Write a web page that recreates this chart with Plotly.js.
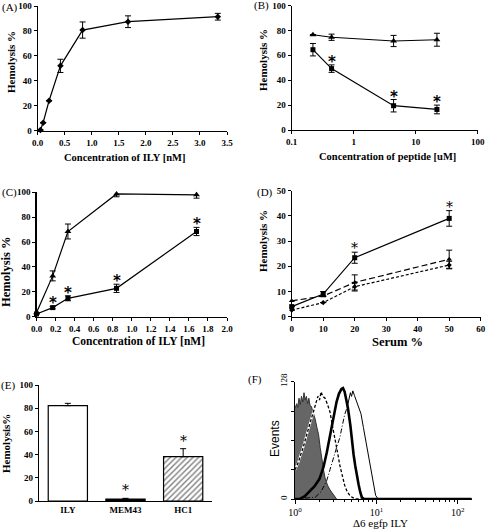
<!DOCTYPE html>
<html>
<head>
<meta charset="utf-8">
<script src="https://cdn.plot.ly/plotly-3.0.1.min.js"></script>
<style>html,body{margin:0;padding:0;background:#fff;}#chart{width:487px;height:529px;}</style>
</head>
<body>
<div id="chart"></div>
<script>
// ---------- Panel A : hemolysis vs ILY concentration ----------
const aConc = [0.05, 0.1, 0.21, 0.42, 0.83, 1.67, 3.33];
const aHemo = [0.5, 6.4, 24, 52, 80.7, 87.4, 91.4];
const aErr  = [0, 0, 0, 5.3, 6.5, 4.7, 2.7];

// ---------- Panel B : hemolysis vs peptide concentration ----------
const bConc = [0.22, 0.44, 4.4, 22];
const bTriangle = [76.5, 74.5, 71.5, 72.5];
const bTriangleErr = [0, 2.5, 4.5, 5.2];
const bSquare = [64.5, 49.3, 19.5, 16.5];
const bSquareErr = [5, 3, 5, 3.5];
const bStars = [false, true, true, true];

// ---------- Panel C : hemolysis vs ILY concentration ----------
const cConc = [0, 0.17, 0.33, 0.84, 1.68];
const cTriangle = [3.2, 32.8, 68.5, 98.7, 98];
const cTriangleErr = [0, 4, 6, 2.3, 2.7];
const cSquare = [2.2, 7.3, 14.8, 22.8, 68.5];
const cSquareErr = [0, 1, 2, 3.3, 3.3];
const cStars = [false, true, true, true, true];

// ---------- Panel D : hemolysis vs serum % ----------
const dSerum = [0, 10, 20, 50];
const dSolid = [4, 9, 23.4, 39];
const dSolidErr = [0, 1, 2.2, 3.1];
const dLongDash = [6.3, 8.2, 13.6, 22.8];
const dLongDashErr = [0, 0, 3, 3.6];
const dShortDash = [2.6, 5.6, 11.9, 20.5];
const dShortDashErr = [0, 0, 1.7, 1.5];
const dStars = [false, false, true, true];

// ---------- Panel E : bars ----------
const eCategories = ['ILY', 'MEM43', 'HC1'];
const eHemo = [82.2, 1.7, 38.2];
const eErr = [2, 0.6, 6.9];
const eStars = [false, true, true];

// ---------- Panel F : flow cytometry histograms ----------
const fGrayX = [1.00,1.05,1.08,1.12,1.16,1.20,1.25,1.29,1.33,1.38,1.43,1.48,1.53,1.59,1.66,1.76,1.86,1.95,2.04,2.14,2.24,2.34,2.51,2.69,2.95,3.24];
const fGrayY = [99,104,100,110,103,112,106,116,108,112,104,110,102,101,95,88,78,70,56,41,32,23,15,10,5,0];
const fDotX = [1.00,1.10,1.17,1.26,1.35,1.45,1.55,1.66,1.74,1.82,1.91,2.00,2.09,2.19,2.34,2.51,2.69,2.88,3.09,3.31,3.55,3.80,4.07,4.37,4.79,5.50,148];
const fDotY = [32,40,48,56,66,76,84,95,100,106,112,108,117,112,110,103,95,80,67,52,37,25,15,8,3,0,0];
const fThickX = [1.00,1.15,1.32,1.51,1.74,2.00,2.24,2.46,2.63,2.82,3.02,3.24,3.47,3.72,3.89,4.07,4.27,4.47,4.79,5.01,5.25,5.50,5.75,6.03,6.31,6.61,7.08,148];
const fThickY = [0,0,3,8,14,22,35,51,65,81,95,106,115,120,121,117,108,99,80,63,48,36,25,16,8,2,0,0];
const fDashDotX = [1.00,1.78,2.09,2.45,2.69,2.95,3.24,3.55,3.80,4.07,4.37];
const fDashDotY = [0,2,8,20,32,45,56,67,80,92,100];
const fThinX = [4.37,4.57,4.79,4.95,5.13,5.37,5.62,6.03,6.46,6.92,7.41,7.94,8.51,9.12,9.77,10.47,148];
const fThinY = [100,110,116,112,118,113,108,100,93,78,63,46,30,15,4,0,0];

// ---------- helpers ----------
const SERIF = 'Liberation Serif';
const tickFont = {family: SERIF, size: 9, weight: 'bold', color: '#000'};
function axis(extra) {
  return Object.assign({
    showline: true, linecolor: '#000', linewidth: 1.2,
    ticks: 'outside', ticklen: 3, tickwidth: 1, tickcolor: '#000',
    showgrid: false, zeroline: false, fixedrange: true,
    tickfont: tickFont
  }, extra);
}
function errs(arr, minus) {
  const e = {type: 'data', array: arr, visible: true, color: '#000', thickness: 1, width: 3};
  if (minus) { e.symmetric = false; e.arrayminus = minus; }
  return e;
}
function line(xs, ys, er, xa, ya, symbol, dash, msize) {
  return {
    type: 'scatter', mode: 'lines+markers', x: xs, y: ys, xaxis: xa, yaxis: ya,
    line: {color: '#000', width: 1.2, dash: dash || 'solid'},
    marker: {symbol: symbol, size: msize || 6, color: '#000'},
    error_y: errs(er), cliponaxis: false, showlegend: false, hoverinfo: 'skip'
  };
}
const annotations = [];
function stars(xs, ys, er, flags, xref, yref, shift, font, isLog) {
  xs.forEach((x, i) => {
    if (!flags[i]) return;
    annotations.push({
      x: isLog ? Math.log10(x) : x, y: ys[i] + er[i], xref: xref, yref: yref, text: '*', showarrow: false,
      yanchor: 'middle', yshift: shift, font: font
    });
  });
}
function label(text, x, y, size, opts) {
  annotations.push(Object.assign({
    text: text, x: x / 487, y: 1 - y / 529, xref: 'paper', yref: 'paper',
    showarrow: false, xanchor: 'center', yanchor: 'middle',
    font: {family: SERIF, size: size, weight: 'bold', color: '#000'}
  }, opts || {}));
}

const traces = [];
// A
traces.push(line(aConc, aHemo, aErr, 'x', 'y', 'diamond', 'solid', 5));
// B
traces.push(line(bConc, bTriangle, bTriangleErr, 'x2', 'y2', 'triangle-up', 'solid', 6));
traces.push(line(bConc, bSquare, bSquareErr, 'x2', 'y2', 'square', 'solid', 5));
// C
traces.push(line(cConc, cTriangle, cTriangleErr, 'x3', 'y3', 'triangle-up', 'solid', 6));
traces.push(line(cConc, cSquare, cSquareErr, 'x3', 'y3', 'square', 'solid', 5));
// D
traces.push(line(dSerum, dSolid, dSolidErr, 'x4', 'y4', 'square', 'solid', 5));
traces.push(line(dSerum, dLongDash, dLongDashErr, 'x4', 'y4', 'triangle-up', '6px,3px', 5));
traces.push(line(dSerum, dShortDash, dShortDashErr, 'x4', 'y4', 'diamond', '3px,2px', 4));
// E : plain bars (ILY, MEM43) and hatched bar (HC1)
traces.push({
  type: 'bar', x: eCategories.slice(0, 2), y: eHemo.slice(0, 2), xaxis: 'x5', yaxis: 'y5', width: 0.68,
  marker: {color: ['#fff', '#000'], line: {color: '#000', width: 1.2}},
  error_y: errs(eErr.slice(0, 2), [0, 0]), showlegend: false, hoverinfo: 'skip'
});
traces.push({
  type: 'bar', x: eCategories.slice(2), y: eHemo.slice(2), xaxis: 'x5', yaxis: 'y5', width: 0.68,
  marker: {color: '#fff', line: {color: '#000', width: 1.2},
    pattern: {shape: '/', fgcolor: '#000', bgcolor: '#fff', size: 4, solidity: 0.35, fillmode: 'overlay'}},
  error_y: errs(eErr.slice(2), [0]), showlegend: false, hoverinfo: 'skip'
});
// F
traces.push({type: 'scatter', mode: 'lines', x: fGrayX, y: fGrayY, xaxis: 'x6', yaxis: 'y6',
  fill: 'tozeroy', fillcolor: '#666', line: {color: '#333', width: 1}, showlegend: false, hoverinfo: 'skip'});
traces.push({type: 'scatter', mode: 'lines', x: fDotX, y: fDotY, xaxis: 'x6', yaxis: 'y6',
  line: {color: '#fff', width: 2.2}, showlegend: false, hoverinfo: 'skip'});
traces.push({type: 'scatter', mode: 'lines', x: fDotX, y: fDotY, xaxis: 'x6', yaxis: 'y6',
  line: {color: '#000', width: 1.3, dash: '3px,2px'}, showlegend: false, hoverinfo: 'skip'});
traces.push({type: 'scatter', mode: 'lines', x: fDashDotX, y: fDashDotY, xaxis: 'x6', yaxis: 'y6',
  line: {color: '#000', width: 1, dash: '5px,2px,1px,2px'}, showlegend: false, hoverinfo: 'skip'});
traces.push({type: 'scatter', mode: 'lines', x: fThinX, y: fThinY, xaxis: 'x6', yaxis: 'y6',
  line: {color: '#000', width: 1}, showlegend: false, hoverinfo: 'skip'});
traces.push({type: 'scatter', mode: 'lines', x: fThickX, y: fThickY, xaxis: 'x6', yaxis: 'y6',
  line: {color: '#000', width: 2.6}, showlegend: false, hoverinfo: 'skip'});

// stars
const boldStar = {family: 'DejaVu Sans', size: 15, weight: 'bold', color: '#000'};
const thinStar = {family: 'DejaVu Serif', size: 14, color: '#000'};
stars(bConc, bSquare, bSquareErr, bStars, 'x2', 'y2', 3, boldStar, true);
stars(cConc, cSquare, cSquareErr, cStars, 'x3', 'y3', 3, boldStar, false);
stars(dSerum, dSolid, dSolidErr, dStars, 'x4', 'y4', 4, thinStar, false);
stars(eCategories, eHemo, eErr, eStars, 'x5', 'y5', 8, thinStar, false);

// panel letters
const letterFont = {family: SERIF, size: 11, weight: 'normal', color: '#000'};
label('(A)', 10, 7, 11, {font: letterFont});
label('(B)', 261, 6, 11, {font: letterFont});
label('(C)', 9, 193, 11, {font: letterFont});
label('(D)', 265, 192, 11, {font: letterFont});
label('(E)', 8, 385, 11, {font: letterFont});
label('(F)', 255, 379, 11, {font: letterFont});

// axis titles
label('Concentration of ILY [nM]', 125, 158, 10.5);
label('Hemolysis %', 11, 62, 11, {textangle: -90});
label('Concentration of peptide [uM]', 387, 157, 10.5);
label('Hemolysis %', 263, 60, 11, {textangle: -90});
label('Concentration of ILY [nM]', 138, 341, 11.5);
label('Hemolysis %', 6, 272, 12.5, {textangle: -90});
label('Serum %', 397, 342, 12.5);
label('Hemolysis %', 263, 241, 11, {textangle: -90});
label('Hemolysis%', 6, 444, 11, {textangle: -90});
label('Events', 275, 439, 12, {textangle: -90, font: {family: 'Liberation Sans', size: 12, color: '#000'}});
label('Δ6 egfp ILY', 380, 523, 11, {font: {family: SERIF, size: 11, color: '#000'}});

const layout = {
  width: 487, height: 529,
  margin: {l: 0, r: 0, t: 0, b: 0},
  paper_bgcolor: '#fff', plot_bgcolor: '#fff',
  showlegend: false, barmode: 'overlay',
  annotations: annotations,
  xaxis: axis({domain: [37.7/487, 227/487], range: [0, 3.5], dtick: 0.5, tickformat: '.1f', anchor: 'y'}),
  yaxis: axis({domain: [1 - 130.7/529, 1 - 6/529], range: [0, 100], dtick: 20, anchor: 'x'}),
  xaxis2: axis({domain: [291.7/487, 477.7/487], type: 'log', range: [-1, 2], tickmode: 'array',
    tickvals: [0.1, 1, 10, 100], ticktext: ['0.1', '1', '10', '100'], anchor: 'y2'}),
  yaxis2: axis({domain: [1 - 130/529, 1 - 5.5/529], range: [0, 100], dtick: 20, anchor: 'x2'}),
  xaxis3: axis({domain: [36.5/487, 227/487], range: [0, 2], dtick: 0.2, tickformat: '.1f', anchor: 'y3'}),
  yaxis3: axis({domain: [1 - 316.7/529, 1 - 192.3/529], range: [0, 100], dtick: 20, anchor: 'x3'}),
  xaxis4: axis({domain: [291.7/487, 480.7/487], range: [0, 60], dtick: 10, anchor: 'y4'}),
  yaxis4: axis({domain: [1 - 316.7/529, 1 - 190.7/529], range: [0, 50], dtick: 10, anchor: 'x4'}),
  xaxis5: axis({domain: [39/487, 212/487], range: [-0.5, 2.5], ticks: '', anchor: 'y5'}),
  yaxis5: axis({domain: [1 - 501/529, 1 - 385/529], range: [0, 100], dtick: 20, anchor: 'x5'}),
  xaxis6: axis({domain: [295/487, 471.7/487], type: 'log', range: [0, 2.17], tickmode: 'array',
    tickvals: [1, 10, 100], ticktext: ['10<sup>0</sup>', '10<sup>1</sup>', '10<sup>2</sup>'],
    tickfont: {family: SERIF, size: 10, color: '#000'}, ticklen: 4,
    minor: {ticks: 'outside', ticklen: 2, tickcolor: '#000', dtick: 'D1'}, anchor: 'y6'}),
  yaxis6: axis({domain: [1 - 499/529, 1 - 381.7/529], range: [0, 128], tickmode: 'array',
    tickvals: [0, 128], ticktext: ['0', '128'], tickangle: -90,
    minor: {ticks: 'outside', ticklen: 3, tickcolor: '#000', tick0: 0, dtick: 32},
    tickfont: {family: SERIF, size: 9, color: '#000'}, anchor: 'x6'})
};

Plotly.newPlot('chart', traces, layout, {staticPlot: true, displayModeBar: false});
</script>
</body>
</html>
